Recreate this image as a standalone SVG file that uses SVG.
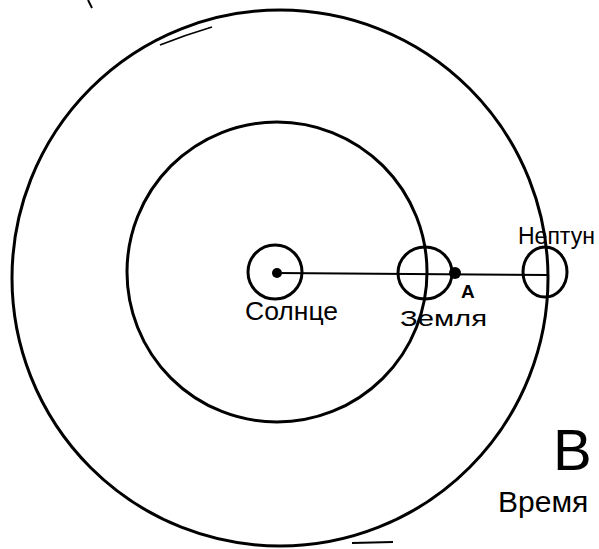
<svg xmlns="http://www.w3.org/2000/svg" width="599" height="549" viewBox="0 0 599 549">
<style>
.orb{fill:none;stroke:#000;stroke-width:3}
.body{fill:none;stroke:#000;stroke-width:3}
.lbl{font-family:"Liberation Sans","DejaVu Sans",sans-serif;fill:#000}
</style>
<rect width="599" height="549" fill="#fff"/>
<g id="orbits">
<circle id="outer-orbit" class="orb" cx="280" cy="278" r="268" stroke-width="3.2"/>
<circle id="inner-orbit" class="orb" cx="277" cy="272" r="150" stroke-width="2.8"/>
<path d="M160 45 Q185 35 212 27" fill="none" stroke="#000" stroke-width="1.6"/>
<path d="M88 0 L92 8" fill="none" stroke="#000" stroke-width="2"/>
<path d="M352 543 L393 542" fill="none" stroke="#000" stroke-width="2"/>
</g>
<g id="connectors">
<line x1="277" y1="273" x2="548" y2="275" stroke="#000" stroke-width="2"/>
</g>
<g id="sun">
<circle class="body" cx="275" cy="272" r="27"/>
<circle cx="277" cy="273" r="5" fill="#000"/>
<text class="lbl" x="245" y="320" font-size="25" textLength="93" lengthAdjust="spacingAndGlyphs">Солнце</text>
</g>
<g id="earth">
<ellipse class="body" cx="425" cy="273" rx="27" ry="26"/>
<text class="lbl" x="400" y="326" font-size="22" textLength="87" lengthAdjust="spacingAndGlyphs">Земля</text>
</g>
<g id="pointA">
<circle cx="455" cy="273" r="6" fill="#000"/>
<text class="lbl" x="461" y="298" font-size="19" font-weight="bold">A</text>
</g>
<g id="neptune">
<ellipse class="body" cx="545" cy="272" rx="22" ry="25"/>
<text class="lbl" x="518" y="244" font-size="23">Нептун</text>
</g>
<g id="labelB">
<text class="lbl" x="553" y="470" font-size="58">В</text>
<text class="lbl" x="498" y="512" font-size="30">Время</text>
</g>
</svg>
